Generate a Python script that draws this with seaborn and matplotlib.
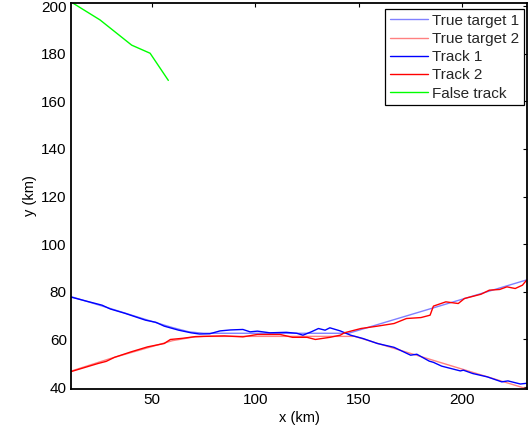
import matplotlib
matplotlib.use("Agg")
import matplotlib.pyplot as plt
import seaborn as sns
import pandas as pd

# ---- data ----
true1_x = [11, 30, 50, 60, 68, 75, 145, 231]
true1_y = [78.0, 73.0, 67.6, 65.0, 63.2, 62.6, 62.6, 85.0]

true2_x = [11, 30, 50, 60, 70, 75, 148, 231]
true2_y = [46.7, 52.0, 57.0, 59.5, 61.0, 61.3, 61.3, 39.3]

track1_x = [11, 18, 26, 30, 37, 47, 52, 56, 63, 69, 73, 78, 83, 88, 94, 97.5, 101, 107,
            115, 120, 123, 127, 130.5, 133.7, 136, 141, 146, 152, 159, 167, 175, 178,
            184, 186, 190, 199, 200.5, 205, 212, 219, 222, 228, 231]
track1_y = [77.8, 76.2, 74.4, 72.8, 71.0, 68.1, 67.2, 65.6, 63.9, 62.8, 62.3, 62.4, 63.6,
            64.0, 64.2, 63.2, 63.5, 62.8, 63.0, 62.6, 61.8, 63.2, 64.6, 63.9, 64.9, 63.6,
            61.8, 60.4, 58.3, 56.7, 53.4, 53.8, 50.9, 50.4, 48.8, 46.8, 47.1, 45.7, 44.3,
            42.2, 42.6, 41.3, 41.6]

track2_x = [11, 24, 28, 32, 40, 48, 56, 59, 65, 71, 80, 85, 94, 101, 112, 118, 125, 129,
            136, 141, 143, 151, 159, 167, 173, 180, 184.4, 186, 192, 198, 201, 209, 213,
            218, 221.5, 225.5, 229, 231]
track2_y = [46.5, 49.9, 50.8, 52.5, 54.8, 56.9, 58.3, 60.0, 60.5, 61.2, 61.4, 61.5, 61.1,
            62.1, 62.1, 60.9, 60.9, 60.0, 60.9, 61.8, 62.8, 64.6, 65.6, 66.7, 68.8, 69.2,
            70.2, 74.0, 75.8, 75.1, 77.2, 79.0, 80.7, 81.0, 82.1, 81.4, 82.8, 84.9]

false_x = [12, 25, 40.3, 49.2, 58]
false_y = [201.2, 194.2, 183.6, 180.2, 168.8]

labels = ["True target 1", "True target 2", "Track 1", "Track 2", "False track"]
colors = ["#8080ff", "#ff8080", "#0000ff", "#ff0000", "#00ff00"]

sns.set_theme(style="white")
plt.rcParams["font.family"] = ["Liberation Sans", "DejaVu Sans"]

fig = plt.figure(figsize=(5.29, 4.32), dpi=100)
ax = fig.add_axes([71 / 529, 1 - 389 / 432, (527 - 71) / 529, (389 - 3) / 432])

series = [(true1_x, true1_y), (true2_x, true2_y), (track1_x, track1_y),
          (track2_x, track2_y), (false_x, false_y)]
for (xs, ys), lab, col in zip(series, labels, colors):
    df = pd.DataFrame({"x": xs, "y": ys})
    sns.lineplot(data=df, x="x", y="y", ax=ax, color=col, label=lab,
                 estimator=None, sort=False, linewidth=1.0)

ax.set_xlim(11, 231.2)
ax.set_ylim(39.2, 201.3)
ax.set_xticks([50, 100, 150, 200])
ax.set_yticks(list(range(40, 201, 20)))
ax.set_xlabel("x (km)", fontsize=10.5, color="black", labelpad=3)
ax.set_ylabel("y (km)", fontsize=10.5, color="black", labelpad=3)
ax.tick_params(direction="in", length=3, width=0.8, top=True, right=True,
               labelsize=11, colors="black", pad=3)
for s in ax.spines.values():
    s.set_visible(True)
    s.set_color("black")
    s.set_linewidth(1.3)

leg = ax.legend(loc="upper right", bbox_to_anchor=((524 - 71) / 456, 1 - 6 / 386),
                borderaxespad=0, fontsize=11, frameon=True, fancybox=False,
                framealpha=1, edgecolor="black", handlelength=2.5,
                handletextpad=0.3, labelspacing=0.28, borderpad=0.3)
leg.get_frame().set_linewidth(0.9)

fig.savefig("out.png", dpi=100)
